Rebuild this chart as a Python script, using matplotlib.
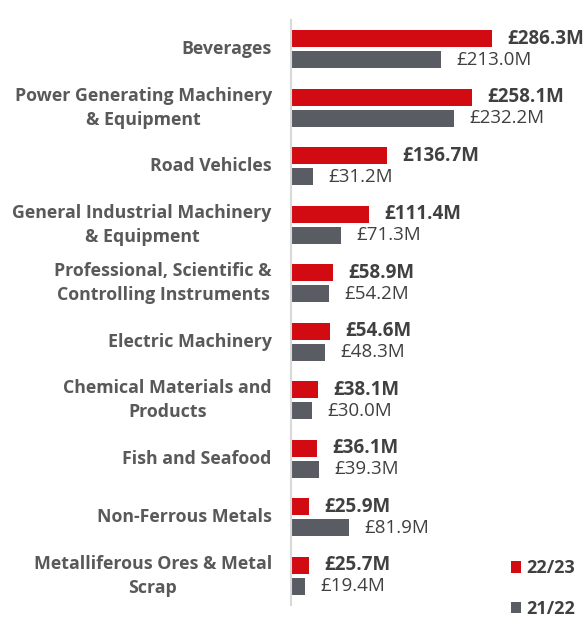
import numpy as np
import matplotlib.pyplot as plt

# data
categories = ['Beverages', 'Power Generating Machinery\n& Equipment', 'Road Vehicles',
              'General Industrial Machinery\n& Equipment', 'Professional, Scientific &\nControlling Instruments',
              'Electric Machinery', 'Chemical Materials and\nProducts', 'Fish and Seafood',
              'Non-Ferrous Metals', 'Metalliferous Ores & Metal\nScrap']
values_2223 = [286.3, 258.1, 136.7, 111.4, 58.9, 54.6, 38.1, 36.1, 25.9, 25.7]
values_2122 = [213.0, 232.2, 31.2, 71.3, 54.2, 48.3, 30.0, 39.3, 81.9, 19.4]
series_labels = ['22/23', '21/22']

red = '#D20A11'
grey = '#595C62'
txt = '#595959'
plt.rcParams['font.family'] = ['Open Sans', 'DejaVu Sans']

fig = plt.figure(figsize=(5.86, 6.25), dpi=100)
ax = fig.add_axes([0.497, 0.032, 0.503, 0.936])

y = np.arange(len(categories))
h = 0.29
off = 0.18
ax.barh(y - off, values_2223, height=h, color=red, label=series_labels[0])
ax.barh(y + off, values_2122, height=h, color=grey, label=series_labels[1])

for i in range(len(categories)):
    ax.annotate('£%.1fM' % values_2223[i], (values_2223[i], y[i] - off), xytext=(11, 0),
                textcoords='offset points', va='center', ha='left', fontsize=13.5,
                fontweight='bold', color='#404040')
    ax.annotate('£%.1fM' % values_2122[i], (values_2122[i], y[i] + off), xytext=(11, 0),
                textcoords='offset points', va='center', ha='left', fontsize=13.5,
                color='#404040')

ax.set_ylim(len(categories) - 0.5, -0.5)
ax.set_xlim(0, 420)
ax.set_yticks(y)
ax.set_yticklabels(categories, fontsize=12.8, fontweight='bold', color=txt,
                   multialignment='center', linespacing=1.45, va='center')
ax.tick_params(axis='y', length=0, pad=14)
ax.set_xticks([])
for s in ['top', 'right', 'bottom']:
    ax.spines[s].set_visible(False)
ax.spines['left'].set_color('#d9d9d9')
ax.spines['left'].set_linewidth(1.5)

leg = ax.legend(loc='lower right', bbox_to_anchor=(1.02, -0.05), frameon=False,
                handlelength=0.6, handleheight=0.6, labelspacing=1.25, handletextpad=0.3,
                prop={'weight': 'bold', 'size': 13})
for t in leg.get_texts():
    t.set_color('#404040')

fig.savefig('out.png', dpi=100)
